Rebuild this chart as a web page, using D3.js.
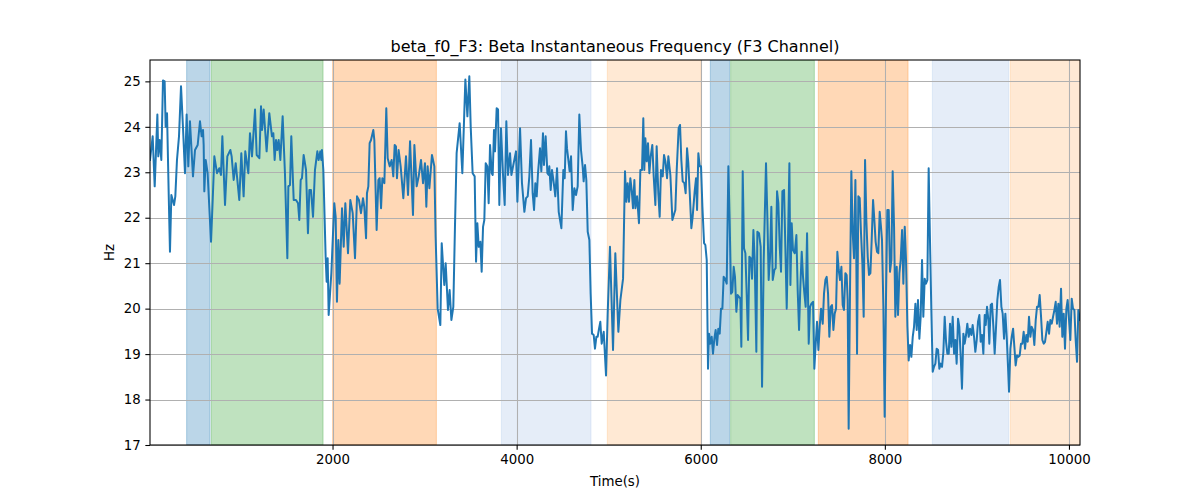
<!DOCTYPE html>
<html>
<head>
<meta charset="utf-8">
<script src="https://cdn.jsdelivr.net/npm/d3@7"></script>
<style>
  html, body { margin: 0; padding: 0; background: #fff; }
  svg { display: block; font-family: "DejaVu Sans", sans-serif; }
</style>
</head>
<body>
<svg id="chart" width="1200" height="500"></svg>
<script>
// ---- data ----
const times = [17,46,68,97,107,122,140,158,176,187,202,220,234,249,278,292,310,332,354,375,397,415,433,451,484,506,535,560,578,593,600,607,622,643,680,698,716,745,770,788,803,832,857,890,904,926,948,987,1009,1034,1052,1085,
1103,1125,1158,1176,1205,1223,1234,1252,1284,1313,1342,1357,1371,1386,1400,1415,1433,1458,1483,1509,1520,1538,1552,1578,1603,1625,1639,1654,1668,1686,1712,1733,1748,1766,1788,1809,1835,1849,1867,1878,1885,1900,1925,1936,1947,1958,1987,2019,2034,2048,2063,2077,2103,2121,2139,2168,2193,2219,2244,
2266,2287,2309,2331,2345,2364,2374,2389,2403,2418,2443,2454,2479,2498,2512,2527,2541,2563,2584,2599,2621,2642,2660,2675,2689,2700,2718,2740,2769,2798,2820,2842,2874,2889,2914,2936,2961,2983,3004,3019,3033,3052,3080,3106,3120,3142,3171,3186,3214,3229,3254,3272,3291,3312,3330,3348,3381,3410,
3443,3465,3486,3501,3522,3544,3559,3573,3588,3606,3620,3635,3649,3664,3682,3696,3711,3729,3740,3754,3765,3783,3798,3812,3830,3852,3870,3888,3906,3928,3943,3961,3993,4008,4037,4058,4084,4102,4120,4138,4156,4174,4189,4203,4218,4232,4254,4268,4286,4297,4315,4334,4348,4355,4370,4384,4399,4410,4420,4439,4457,4486,4507,4522,4536,
4547,4576,4591,4609,4627,4645,4663,4681,4699,4717,4728,4743,4757,4772,4790,4804,4819,4837,4851,4866,4880,4895,4909,4924,4946,4971,4989,5014,5047,5072,5105,5127,5156,5177,5192,5206,5221,5235,5250,5264,5279,5290,5308,5329,5344,5362,5376,5387,5398,5413,5427,5442,5456,5474,5489,5507,5521,5539,5554,5568,5587,5601,5616,5634,5648,5670,5692,5713,
5724,5739,5760,5775,5789,5804,5822,5836,5851,5865,5884,5898,5912,5934,5949,5960,5974,5989,6003,6018,6036,6050,6065,6079,6090,6104,6119,6133,6148,6162,6177,6191,6206,6220,6235,6249,6264,6282,6300,6314,6329,6343,6358,6372,6387,6401,6416,6430,6441,6456,6470,6485,6499,6514,6528,6543,6557,6572,6586,6604,6615,6633,6651,6666,6684,6709,6724,6738,6753,6767,6782,6800,6814,6829,
6843,6858,6872,6887,6905,6919,6934,6948,6963,6974,6988,7002,7021,7039,7053,7068,7082,7097,7111,7126,7140,7155,7173,7187,7202,7220,7234,7249,7263,7278,7292,7307,7325,7339,7354,7368,7383,7397,7412,7426,7441,7455,7470,7484,7499,7513,7528,7542,7556,7571,7585,7596,7607,7622,7636,7651,7665,7680,7690,7698,7712,7727,7741,7756,7770,7785,7799,7814,7828,7843,7857,7872,7886,7900,7915,7929,7944,7958,
7969,7984,7998,8013,8027,8042,8056,8071,8085,8100,8114,8129,8143,8158,8172,8187,8201,8216,8230,8245,8259,8274,8288,8303,8317,8332,8346,8360,8375,8389,8404,8418,8433,8447,8462,8476,8491,8505,8520,8534,8549,8563,8578,8592,8607,8621,8636,8650,8665,8679,8694,8708,8723,8737,8752,8766,8780,8795,8809,8824,8838,8853,8867,8882,8896,8911,8925,8940,8954,8969,8983,8998,9012,9027,9041,9056,9070,9085,
9096,9110,9125,9135,9150,9164,9179,9193,9208,9222,9237,9251,9266,9280,9295,9309,9324,9338,9349,9364,9378,9393,9407,9421,9436,9450,9465,9479,9494,9508,9523,9537,9552,9566,9581,9595,9610,9624,9639,9653,9668,9682,9697,9711,9726,9740,9755,9769,9784,9798,9813,9827,9842,9856,9870,9885,9899,9914,9928,9943,9957,9972,9986,10001,10015,10030,10044,10059,10073,10088,10102,10120];

const freqHz = [23.27,23.79,22.69,24.27,23.35,23.71,23.27,25.02,25.00,24.00,24.30,22.54,21.25,22.50,22.28,22.47,23.27,23.79,24.89,24.00,22.98,24.27,23.13,24.12,22.91,23.49,23.60,24.12,23.79,23.93,23.60,22.58,23.27,22.98,21.47,22.39,23.35,22.98,23.09,22.94,23.79,22.28,23.35,23.49,23.35,22.83,23.20,22.39,23.42,22.47,23.46,22.98,
23.86,23.35,24.38,23.38,23.31,24.45,23.93,24.38,23.46,24.30,23.79,23.86,23.27,23.71,23.49,23.71,23.27,24.23,22.98,21.11,22.69,22.72,23.79,22.39,22.39,22.32,21.95,22.83,22.87,23.38,23.05,21.66,22.61,22.61,22.02,23.05,23.46,23.27,23.46,23.27,23.49,23.05,21.14,20.59,21.11,19.86,20.78,22.32,22.02,20.15,21.51,20.55,22.21,21.36,22.32,21.22,22.39,22.10,21.11,
22.47,22.39,22.10,22.43,22.24,21.55,22.54,22.69,23.64,23.71,23.93,23.71,21.73,22.83,22.87,22.21,22.87,22.76,24.41,23.31,23.13,23.27,22.91,23.60,23.57,22.87,23.49,23.13,22.43,23.35,22.50,23.68,22.06,23.60,22.69,22.91,23.27,22.76,23.20,22.24,23.13,22.65,23.38,23.13,21.58,20.00,19.64,21.44,20.52,21.00,19.97,20.41,19.75,20.04,21.80,23.42,24.08,22.98,
25.04,24.23,25.11,24.00,22.98,22.91,21.03,21.88,21.36,21.47,20.81,21.80,21.95,23.20,23.13,22.32,23.60,22.98,22.94,23.93,23.46,24.41,24.38,22.28,23.97,22.94,22.28,24.12,22.94,23.42,22.94,23.13,23.46,22.35,23.97,22.76,22.13,22.43,22.47,22.91,23.71,22.54,22.17,22.76,22.47,22.98,23.53,23.02,23.86,23.16,23.79,22.98,22.94,23.13,22.61,23.05,22.83,22.65,22.47,23.09,22.13,21.77,23.05,22.87,23.90,
23.53,23.02,23.35,22.17,22.65,22.50,22.69,24.27,23.49,23.13,22.80,23.16,22.83,21.69,21.51,20.33,19.45,19.42,19.12,19.38,19.38,19.56,19.71,19.23,19.49,18.53,19.89,21.36,19.09,21.22,19.49,20.19,20.66,23.02,22.35,22.76,22.35,22.87,22.61,22.21,22.83,22.21,22.47,21.88,23.05,23.05,24.19,23.05,23.75,23.24,23.64,22.98,23.35,23.60,22.91,22.28,23.57,22.54,22.02,23.05,22.91,23.38,23.24,22.87,23.35,22.94,21.95,22.10,
22.17,23.05,23.97,24.04,23.27,22.80,22.76,22.54,23.53,23.20,22.39,21.77,22.02,22.58,22.87,22.17,23.42,23.13,23.13,22.24,21.44,21.40,21.07,18.68,19.45,19.23,19.38,19.01,19.34,19.53,19.20,19.56,19.45,20.00,20.00,20.70,20.66,20.55,23.13,21.95,20.33,20.37,20.92,20.70,19.93,20.30,20.26,20.22,19.16,23.02,21.33,21.22,20.33,19.31,21.14,21.11,20.66,21.73,21.07,19.05,21.69,21.66,21.36,18.28,21.07,23.20,21.99,20.63,21.14,22.24,20.63,20.85,20.89,22.58,
22.32,21.36,20.81,22.58,22.61,21.36,20.00,21.51,23.20,20.52,21.88,21.29,21.22,21.62,20.41,19.53,20.48,21.25,20.70,20.33,20.04,21.66,19.23,20.04,20.11,20.15,18.68,19.23,19.71,19.09,19.60,20.00,19.67,20.33,20.63,20.70,20.33,19.38,20.04,20.08,19.53,19.89,20.00,21.25,20.85,20.63,20.92,20.08,19.97,20.78,20.74,20.19,17.36,20.48,23.02,21.66,21.11,22.83,21.11,19.01,22.47,22.43,21.66,21.00,19.82,23.27,21.95,21.14,20.74,20.78,21.51,22.39,21.95,21.47,21.25,21.22,22.13,21.80,
21.51,20.04,17.62,20.33,22.17,22.17,20.81,21.07,23.02,21.80,19.82,20.92,19.86,20.78,21.07,21.73,20.55,21.80,21.07,19.60,18.86,19.20,18.94,19.38,19.60,20.11,19.53,20.19,19.34,19.82,21.07,19.82,20.66,20.55,20.63,23.09,21.44,19.97,18.61,18.72,18.79,19.12,19.09,18.68,18.79,18.72,19.05,19.82,19.27,19.01,19.01,19.67,19.16,19.82,19.01,19.31,18.79,19.78,19.60,18.94,18.24,19.45,19.23,19.42,19.67,19.38,19.56,19.42,19.64,19.38,19.05,19.31,19.71,19.86,19.27,19.42,19.01,19.86,
19.64,20.04,19.75,19.23,20.08,20.11,19.60,19.01,19.60,20.19,20.48,20.63,20.04,19.89,19.34,19.89,19.38,18.72,18.17,19.12,19.38,19.56,19.16,18.75,18.97,18.94,18.97,19.23,19.23,19.49,19.12,19.42,19.27,19.82,19.38,19.60,19.53,19.20,19.75,20.04,20.04,20.30,19.82,19.31,19.23,19.27,19.49,19.71,19.45,19.75,19.67,19.82,19.97,20.15,19.67,20.11,19.60,20.44,19.38,19.89,19.12,20.00,20.19,19.75,19.31,20.22,20.00,19.97,19.31,18.83,19.97,19.75];

// shaded intervals
const spanStart = [415, 683, 2001, 3834, 4985, 6104, 6325, 7277, 8516, 9363];
const spanEnd   = [669, 1897, 3128, 4808, 6003, 6314, 7234, 8252, 9345, 10120];
const spanKind  = ["blue", "green", "orange", "lightblue", "lightorange", "blue", "green", "orange", "lightblue", "lightorange"];

const xTicks = [2000, 4000, 6000, 8000, 10000];
const yTicks = [17, 18, 19, 20, 21, 22, 23, 24, 25];
const xDomain = [17, 10120];
const yDomain = [17, 25.47];

const titleText = "beta_f0_F3: Beta Instantaneous Frequency (F3 Channel)";
const xLabelText = "Time(s)";
const yLabelText = "Hz";

// ---- styles ----
const spanColors = {
  blue: ["#1f77b4", 0.3],
  green: ["#2ca02c", 0.3],
  orange: ["#ff7f0e", 0.3],
  lightblue: ["#aec7e8", 0.32],
  lightorange: ["#ffbb78", 0.32]
};

const W = 1200, H = 500;
const m = { left: 150, right: 1080, top: 60, bottom: 445 };

const svg = d3.select("#chart");
const x = d3.scaleLinear().domain(xDomain).range([m.left, m.right]);
const y = d3.scaleLinear().domain(yDomain).range([m.bottom, m.top]);

svg.append("defs").append("clipPath").attr("id", "clip")
  .append("rect").attr("x", m.left).attr("y", m.top)
  .attr("width", m.right - m.left).attr("height", m.bottom - m.top);

// spans
const spans = svg.append("g").attr("clip-path", "url(#clip)");
spanStart.forEach((s, i) => {
  const [c, a] = spanColors[spanKind[i]];
  spans.append("rect")
    .attr("x", x(s)).attr("y", m.top)
    .attr("width", x(spanEnd[i]) - x(s))
    .attr("height", m.bottom - m.top)
    .attr("fill", c).attr("fill-opacity", a)
    .attr("stroke", c).attr("stroke-opacity", a).attr("stroke-width", 1);
});

// grid
const grid = svg.append("g");
xTicks.forEach(t => {
  grid.append("line").attr("x1", Math.round(x(t)) + 0.5).attr("x2", Math.round(x(t)) + 0.5)
    .attr("y1", m.top).attr("y2", m.bottom)
    .attr("stroke", "#b0b0b0").attr("stroke-width", 1.07);
});
yTicks.forEach(t => {
  grid.append("line").attr("y1", Math.round(y(t)) + 0.5).attr("y2", Math.round(y(t)) + 0.5)
    .attr("x1", m.left).attr("x2", m.right)
    .attr("stroke", "#b0b0b0").attr("stroke-width", 1.07);
});

// line
const data = times.map((t, i) => [t, freqHz[i]]);
svg.append("path").datum(data)
  .attr("clip-path", "url(#clip)")
  .attr("fill", "none").attr("stroke", "#1f77b4")
  .attr("stroke-width", 2).attr("stroke-linejoin", "round").attr("stroke-linecap", "square")
  .attr("d", d3.line().x(d => x(d[0])).y(d => y(d[1])));

// axes
const xAxis = d3.axisBottom(x).tickValues(xTicks).tickFormat(d3.format("d"))
  .tickSizeInner(4.67).tickSizeOuter(0).tickPadding(4.67);
const yAxis = d3.axisLeft(y).tickValues(yTicks).tickFormat(d3.format("d"))
  .tickSizeInner(4.67).tickSizeOuter(0).tickPadding(4.67);

const gx = svg.append("g").attr("transform", `translate(0,${m.bottom})`).call(xAxis);
const gy = svg.append("g").attr("transform", `translate(${m.left},0)`).call(yAxis);
[gx, gy].forEach(g => {
  g.select(".domain").remove();
  g.selectAll(".tick line").attr("stroke", "#000").attr("stroke-width", 1.07);
  g.selectAll(".tick text").attr("fill", "#000")
    .style("font-family", "'DejaVu Sans', sans-serif").style("font-size", "13.33px");
});

// spines
svg.append("rect").attr("x", m.left).attr("y", m.top)
  .attr("width", m.right - m.left).attr("height", m.bottom - m.top)
  .attr("fill", "none").attr("stroke", "#000").attr("stroke-width", 1.07);

// texts
svg.append("text").attr("x", (m.left + m.right) / 2).attr("y", 52)
  .attr("text-anchor", "middle").style("font-size", "16px").attr("fill", "#000")
  .text(titleText);
svg.append("text").attr("x", (m.left + m.right) / 2).attr("y", 486)
  .attr("text-anchor", "middle").style("font-size", "13.33px").attr("fill", "#000")
  .text(xLabelText);
svg.append("text")
  .attr("transform", `translate(114,${(m.top + m.bottom) / 2}) rotate(-90)`)
  .attr("text-anchor", "middle").style("font-size", "13.33px").attr("fill", "#000")
  .text(yLabelText);
</script>
</body>
</html>
